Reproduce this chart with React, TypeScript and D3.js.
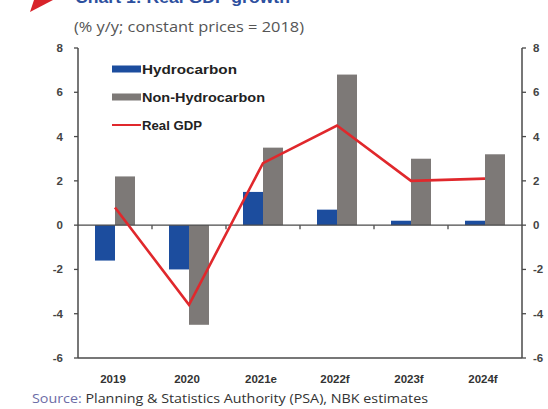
import React from "react";
import * as d3 from "d3";

const categories = ["2019", "2020", "2021e", "2022f", "2023f", "2024f"];
const hydrocarbon = [-1.6, -2.0, 1.5, 0.7, 0.2, 0.2];
const nonHydrocarbon = [2.2, -4.5, 3.5, 6.8, 3.0, 3.2];
const realGDP = [0.8, -3.6, 2.8, 4.5, 2.0, 2.1];
const yTicks = [-6, -4, -2, 0, 2, 4, 6, 8];
const seriesNames = ["Hydrocarbon", "Non-Hydrocarbon"];

const W = 548;
const H = 409;
const BLUE = "#1c4d9e";
const GREY = "#7d7977";
const RED = "#e0282c";
const AXIS = "#4a4a4a";
const FONT = "'Liberation Sans', Arial, sans-serif";
const FONT2 = "'Open Sans', 'Noto Sans', sans-serif";

export default function App() {
  const left = 78;
  const right = 522;
  const top = 48;
  const bottom = 358;

  const x0 = d3.scaleBand<string>().domain(categories).range([left, right]).padding(0);
  const bw = x0.bandwidth();
  const x1 = d3
    .scaleBand<string>()
    .domain(seriesNames)
    .range([bw / 2 - 20, bw / 2 + 20])
    .padding(0);
  const y = d3.scaleLinear().domain([-6, 8]).range([bottom, top]);

  const line = d3
    .line<number>()
    .x((_, i) => (x0(categories[i]) as number) + bw / 2)
    .y((d) => y(d));

  const barData = [
    { name: "Hydrocarbon", values: hydrocarbon, color: BLUE },
    { name: "Non-Hydrocarbon", values: nonHydrocarbon, color: GREY },
  ];

  const legendItems = [
    { name: "Hydrocarbon", color: BLUE, type: "bar", len: 95 },
    { name: "Non-Hydrocarbon", color: GREY, type: "bar", len: 123 },
    { name: "Real GDP", color: RED, type: "line", len: 60 },
  ];

  return (
    <svg
      width={W}
      height={H}
      style={{ position: "absolute", left: 0, top: 0, background: "#fff" }}
      fontFamily={FONT}
    >
      <rect x={0} y={0} width={W} height={H} fill="#fff" />
      {/* clipped title */}
      <polygon points="34,0 53,0 30,12" fill="#d8232a" />
      <text x={75} y={3} fontSize={17} fontWeight="bold" fill="#2d4f9e" textLength={215} lengthAdjust="spacingAndGlyphs">
        Chart 1: Real GDP growth
      </text>
      <text
        x={74}
        y={32}
        fontSize={14}
        fill="#555"
        fontFamily={FONT2}
        textLength={230}
        lengthAdjust="spacingAndGlyphs"
      >
        (% y/y; constant prices = 2018)
      </text>

      {/* bars */}
      {barData.map((s) =>
        s.values.map((v, i) => (
          <rect
            key={s.name + i}
            x={(x0(categories[i]) as number) + (x1(s.name) as number)}
            y={y(Math.max(0, v))}
            width={x1.bandwidth()}
            height={Math.abs(y(v) - y(0))}
            fill={s.color}
          />
        ))
      )}

      {/* zero line */}
      <line x1={left} x2={right} y1={y(0)} y2={y(0)} stroke={AXIS} strokeWidth={1.3} />
      {categories.slice(1).map((c) => (
        <line
          key={"zt" + c}
          x1={x0(c) as number}
          x2={x0(c) as number}
          y1={y(0)}
          y2={y(0) + 4}
          stroke={AXIS}
          strokeWidth={1.3}
        />
      ))}

      {/* line */}
      <path d={line(realGDP) || ""} fill="none" stroke={RED} strokeWidth={2.6} />

      {/* frame axes */}
      <line x1={left} x2={left} y1={top} y2={bottom} stroke={AXIS} strokeWidth={1.5} />
      <line x1={right} x2={right} y1={top} y2={bottom} stroke={AXIS} strokeWidth={1.5} />
      <line x1={left} x2={right} y1={bottom} y2={bottom} stroke={AXIS} strokeWidth={1.5} />

      {yTicks.map((t) => (
        <g key={"yt" + t}>
          <line x1={left - 4} x2={left} y1={y(t)} y2={y(t)} stroke={AXIS} strokeWidth={1.3} />
          <line x1={right} x2={right + 4} y1={y(t)} y2={y(t)} stroke={AXIS} strokeWidth={1.3} />
          <text
            x={left - 15}
            y={y(t)}
            dy="0.35em"
            textAnchor="end"
            fontSize={11.5}
            fontWeight="bold"
            fill="#444"
          >
            {t}
          </text>
          <text
            x={right + 11}
            y={y(t)}
            dy="0.35em"
            textAnchor="start"
            fontSize={11.5}
            fontWeight="bold"
            fill="#444"
          >
            {t}
          </text>
        </g>
      ))}

      {categories.map((c) => (
        <text
          key={"cl" + c}
          x={(x0(c) as number) + bw / 2 - 2}
          y={383}
          textAnchor="middle"
          fontSize={11.5}
          fontWeight="bold"
          fill="#333"
        >
          {c}
        </text>
      ))}

      {/* legend */}
      {legendItems.map((it, i) => {
        const ly = 69 + i * 28;
        return (
          <g key={"lg" + it.name}>
            {it.type === "bar" ? (
              <rect x={112} y={ly - 3.5} width={29} height={7} fill={it.color} />
            ) : (
              <line x1={112} x2={141} y1={ly} y2={ly} stroke={it.color} strokeWidth={2} />
            )}
            <text
              x={142}
              y={ly}
              dy="0.36em"
              fontSize={12.5}
              fontWeight="bold"
              fill="#222"
              textLength={it.len}
              lengthAdjust="spacingAndGlyphs"
            >
              {it.name}
            </text>
          </g>
        );
      })}

      <text
        x={32}
        y={403}
        fontSize={12}
        fill="#333"
        fontFamily={FONT2}
        textLength={396}
        lengthAdjust="spacingAndGlyphs"
      >
        <tspan fill="#6c6ca6">Source:</tspan> Planning &amp; Statistics Authority (PSA), NBK estimates
      </text>
    </svg>
  );
}
